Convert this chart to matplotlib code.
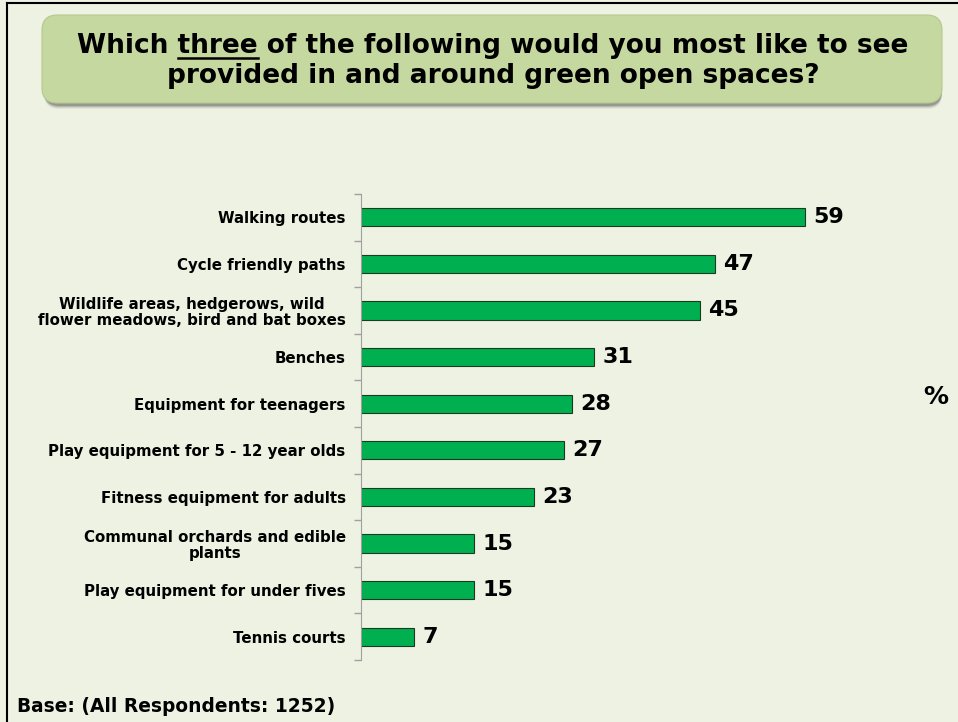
import matplotlib.pyplot as plt
from matplotlib.patches import FancyBboxPatch
from matplotlib.lines import Line2D

# Survey answers, top to bottom
categories = [
    "Walking routes",
    "Cycle friendly paths",
    "Wildlife areas, hedgerows, wild\nflower meadows, bird and bat boxes",
    "Benches",
    "Equipment for teenagers",
    "Play equipment for 5 - 12 year olds",
    "Fitness equipment for adults",
    "Communal orchards and edible\nplants",
    "Play equipment for under fives",
    "Tennis courts",
]
values = [59, 47, 45, 31, 28, 27, 23, 15, 15, 7]

title_line1 = ("Which ", "three", " of the following would you most like to see")
title_line2 = "provided in and around green open spaces?"
base_text = "Base: (All Respondents: 1252)"

bg = "#EEF2E2"
bar_color = "#00B050"
box_color = "#C5D89F"

plt.rcParams['font.family'] = ['DejaVu Sans']

fig = plt.figure(figsize=(9.58, 7.22), dpi=100)
fig.patch.set_facecolor(bg)

W, H = 958, 722

def fx(px):
    return px / W

def fy(py):
    return 1 - py / H

# frame lines on left and top
fig.add_artist(Line2D([fx(7), fx(7)], [fy(3), 0], color="black", lw=1.5))
fig.add_artist(Line2D([fx(7), 1], [fy(3), fy(3)], color="black", lw=1.5))

# title box with soft shadow
for off, a in [(6, 0.08), (5, 0.12), (4, 0.2), (3, 0.3)]:
    sh = FancyBboxPatch((fx(44), fy(103 + off)), fx(898), fy(15) - fy(103),
                        boxstyle="round,pad=0,rounding_size=0.016",
                        transform=fig.transFigure, facecolor="#505050",
                        edgecolor="none", alpha=a, mutation_aspect=W / H)
    fig.add_artist(sh)
box = FancyBboxPatch((fx(42), fy(103)), fx(900), fy(15) - fy(103),
                     boxstyle="round,pad=0,rounding_size=0.016",
                     transform=fig.transFigure, facecolor=box_color,
                     edgecolor="#B5C88F", lw=0.8, mutation_aspect=W / H)
fig.add_artist(box)

tsize = 19
cx = fx(493)
full1 = "".join(title_line1)
t1 = fig.text(cx, fy(46), full1, ha="center", va="center",
              fontsize=tsize, fontweight="bold")
fig.text(cx, fy(76), title_line2, ha="center", va="center",
         fontsize=tsize, fontweight="bold")

# underline under "three"
fig.canvas.draw()
r = fig.canvas.get_renderer()
bb = t1.get_window_extent(r)
tmp = fig.text(0, 0, title_line1[0], fontsize=tsize, fontweight="bold")
w_pre = tmp.get_window_extent(r).width
tmp.set_text(title_line1[0] + title_line1[1])
w_word = tmp.get_window_extent(r).width
tmp.remove()
x0 = (bb.x0 + w_pre) / W
x1 = (bb.x0 + w_word) / W
fig.add_artist(Line2D([x0, x1], [fy(57.5), fy(57.5)], color="black", lw=1.8))

# bar chart
ax = fig.add_axes([fx(361), fy(660), fx(936) - fx(361), fy(194) - fy(660)])
ax.set_facecolor(bg)
ypos = list(range(len(categories)))
ax.barh(ypos, values, height=0.39, color=bar_color, edgecolor="#1E3A1E", lw=0.8)
ax.set_ylim(len(categories) - 0.5, -0.5)
ax.set_xlim(0, (936 - 361) / ((805 - 361) / 59))

ax.set_yticks(ypos)
ax.set_yticklabels(categories, fontsize=10.8, fontweight="bold", ha="right",
                   multialignment="center", linespacing=1.1)
ax.tick_params(axis="y", which="major", length=0, pad=11)
ax.set_yticks([i - 0.5 for i in range(len(categories) + 1)], minor=True)
ax.tick_params(axis="y", which="minor", length=5, color="#A0A0A0", width=1)
ax.set_xticks([])
for s in ["top", "right", "bottom"]:
    ax.spines[s].set_visible(False)
ax.spines["left"].set_color("#A0A0A0")

for y, v in zip(ypos, values):
    ax.annotate(str(v), (v, y), xytext=(6, 0), textcoords="offset points",
                ha="left", va="center", fontsize=16, fontweight="bold")

fig.text(fx(936), fy(397), "%", ha="center", va="center",
         fontsize=18, fontweight="bold")
fig.text(fx(17), fy(706), base_text, ha="left", va="center",
         fontsize=13.4, fontweight="bold")

fig.savefig("out.png", dpi=100, facecolor=bg)
